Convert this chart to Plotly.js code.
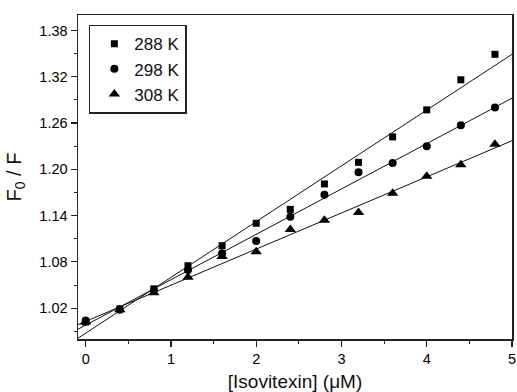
<!DOCTYPE html>
<html>
<head>
<meta charset="utf-8">
<script src="https://cdn.plot.ly/plotly-3.0.1.min.js"></script>
<style>html,body{margin:0;padding:0;background:#fff;}#chart{width:517px;height:392px;}</style>
</head>
<body>
<div id="chart"></div>
<script>
// Concentration of isovitexin (μM)
var conc = [0, 0.4, 0.8, 1.2, 1.6, 2.0, 2.4, 2.8, 3.2, 3.6, 4.0, 4.4, 4.8];
// F0/F at each temperature
var ratio288 = [1.002, 1.019, 1.045, 1.075, 1.101, 1.130, 1.148, 1.181, 1.209, 1.242, 1.277, 1.316, 1.349];
var ratio298 = [1.004, 1.018, 1.0435, 1.0695, 1.091, 1.107, 1.1385, 1.167, 1.196, 1.208, 1.230, 1.257, 1.280];
var ratio308 = [1.002, 1.018, 1.040, 1.060, 1.087, 1.093, 1.122, 1.134, 1.144, 1.169, 1.191, 1.206, 1.2325];
var seriesNames = ['288 K', '298 K', '308 K'];
var xRange = [-0.09, 5.0];
var yRange = [0.98, 1.40];

var seriesY = [ratio288, ratio298, ratio308];
var symbols = ['square', 'circle', 'triangle-up'];
var sizes = [7, 8, 10];

function linfit(x, y) {
  var n = x.length, mx = 0, my = 0;
  for (var i = 0; i < n; i++) { mx += x[i]; my += y[i]; }
  mx /= n; my /= n;
  var sxy = 0, sxx = 0;
  for (var j = 0; j < n; j++) { sxy += (x[j] - mx) * (y[j] - my); sxx += (x[j] - mx) * (x[j] - mx); }
  var b = sxy / sxx;
  return {a: my - b * mx, b: b};
}

var traces = [];
seriesY.forEach(function (ys, k) {
  var f = linfit(conc, ys);
  traces.push({
    x: xRange, y: xRange.map(function (v) { return f.a + f.b * v; }),
    mode: 'lines', line: {color: '#111', width: 1}, showlegend: false, hoverinfo: 'skip'
  });
});
seriesY.forEach(function (ys, k) {
  traces.push({
    x: conc, y: ys, name: seriesNames[k], mode: 'markers',
    marker: {symbol: symbols[k], size: sizes[k], color: '#000'}
  });
});

var axisCommon = {
  showgrid: false, zeroline: false, showline: true, linecolor: '#222', linewidth: 1.5,
  mirror: true, ticks: 'outside', ticklen: 6, tickwidth: 1.2, tickcolor: '#222',
  tickfont: {family: 'Liberation Sans, Arial, sans-serif', size: 14.5, color: '#000'}
};

var layout = {
  width: 517, height: 392,
  margin: {l: 78, r: 5, t: 15, b: 53},
  paper_bgcolor: '#fff', plot_bgcolor: '#fff',
  font: {family: 'Liberation Sans, Arial, sans-serif', color: '#111'},
  xaxis: Object.assign({}, axisCommon, {
    range: xRange, tickvals: [0, 1, 2, 3, 4, 5],
    minor: {tickvals: [0.5, 1.5, 2.5, 3.5, 4.5], ticks: 'outside', ticklen: 3, tickcolor: '#222', tickwidth: 1},
    title: {text: '[Isovitexin] (μM)', font: {size: 19, color: '#111'}, standoff: 11}
  }),
  yaxis: Object.assign({}, axisCommon, {
    range: yRange, tickvals: [1.02, 1.08, 1.14, 1.20, 1.26, 1.32, 1.38],
    ticktext: ['1.02', '1.08', '1.14', '1.20', '1.26', '1.32', '1.38'],
    minor: {tickvals: [0.99, 1.05, 1.11, 1.17, 1.23, 1.29, 1.35], ticks: 'outside', ticklen: 3, tickcolor: '#222', tickwidth: 1},
    title: {text: 'F<sub>0</sub> / F', font: {size: 20, color: '#111'}, standoff: 12}
  }),
  legend: {
    x: 0.025, y: 0.97, xanchor: 'left', yanchor: 'top',
    bgcolor: '#fff', bordercolor: '#222', borderwidth: 1.5,
    font: {size: 17, color: '#111'}, tracegroupgap: 0, indentation: 4
  },
  showlegend: true
};

Plotly.newPlot('chart', traces, layout, {displayModeBar: false, staticPlot: true});
</script>
</body>
</html>
